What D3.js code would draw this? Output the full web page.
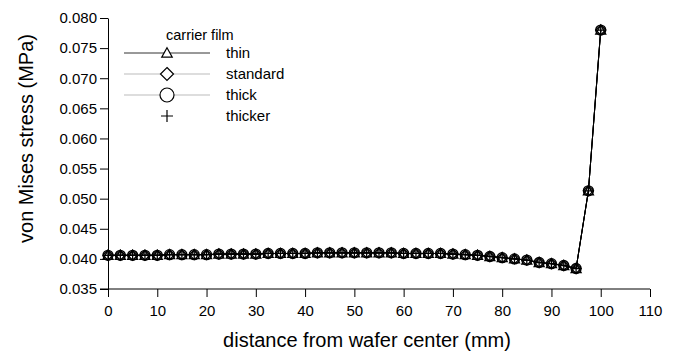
<!DOCTYPE html>
<meta charset="utf-8">
<head>
  <title>von Mises stress</title>
</head>

<style>
body {
  margin: 0;
  font-family: "Liberation Sans", Arial, sans-serif;
  background: #fff;
}
</style>

<body>
  <svg width="679" height="353"></svg>

  <script src="https://cdnjs.cloudflare.com/ajax/libs/d3/7.8.5/d3.min.js"></script>

  <script>
var distance = [0, 2.5, 5, 7.5, 10, 12.5, 15, 17.5, 20, 22.5, 25, 27.5, 30, 32.5, 35, 37.5,
  40, 42.5, 45, 47.5, 50, 52.5, 55, 57.5, 60, 62.5, 65, 67.5, 70, 72.5, 75, 77.5,
  80, 82.5, 85, 87.5, 90, 92.5, 95, 97.5, 100];

var thin = [0.0406, 0.0406, 0.0406, 0.0406, 0.0406, 0.0407, 0.0407, 0.0407, 0.0407, 0.0408,
  0.0408, 0.0408, 0.0408, 0.0409, 0.0409, 0.0409, 0.0409, 0.0410, 0.0410, 0.0410,
  0.0410, 0.0410, 0.0410, 0.0410, 0.0409, 0.0409, 0.0409, 0.0409, 0.0408, 0.0407,
  0.0406, 0.0404, 0.0402, 0.0400, 0.0398, 0.0394, 0.0392, 0.0389, 0.0384, 0.0513, 0.0780];
var standard = thin.slice();
var thick = thin.slice();
var thicker = thin.slice();

var xTicks = [0, 10, 20, 30, 40, 50, 60, 70, 80, 90, 100, 110];
var yTicks = [0.035, 0.040, 0.045, 0.050, 0.055, 0.060, 0.065, 0.070, 0.075, 0.080];

// marker shapes, scaled by k
var shapes = {
  triangle: function(k) { return 'M0,' + (-5 * k) + 'L' + (5 * k) + ',' + (4 * k) + 'H' + (-5 * k) + 'Z'; },
  diamond: function(k) { return 'M0,' + (-5 * k) + 'L' + (5 * k) + ',0L0,' + (5 * k) + 'L' + (-5 * k) + ',0Z'; },
  circle: function(k) { var r = 5 * k; return 'M' + r + ',0A' + r + ',' + r + ',0,1,1,' + (-r) + ',0A' + r + ',' + r + ',0,1,1,' + r + ',0Z'; },
  cross: function(k) { return 'M' + (-5 * k) + ',0H' + (5 * k) + 'M0,' + (-5 * k) + 'V' + (5 * k); }
};

var series = [
  {name: 'thin', values: thin, shape: 'triangle', legendLine: '#333', legendK: 1.05},
  {name: 'standard', values: standard, shape: 'diamond', legendLine: '#bbb', legendK: 1.3},
  {name: 'thick', values: thick, shape: 'circle', legendLine: '#bbb', legendK: 1.4},
  {name: 'thicker', values: thicker, shape: 'cross', legendLine: null, legendK: 1.2}
];

var margin = {left: 108, top: 18, right: 29, bottom: 64};
var svg = d3.select('svg');
var w = 679 - margin.left - margin.right;
var h = 353 - margin.top - margin.bottom;

var x = d3.scaleLinear().domain([0, 110]).range([0, w]);
var y = d3.scaleLinear().domain([0.035, 0.080]).range([h, 0]);

var g = svg.append('g').attr('transform', 'translate(' + margin.left + ',' + margin.top + ')');

var xAxis = g.append('g')
  .attr('transform', 'translate(0,' + h + ')')
  .call(d3.axisBottom(x).tickValues(xTicks).tickSize(8).tickSizeOuter(0).tickPadding(8));

var yAxis = g.append('g')
  .call(d3.axisLeft(y).tickValues(yTicks).tickFormat(d3.format('.3f')).tickSize(8).tickSizeOuter(0).tickPadding(3));

[xAxis, yAxis].forEach(function(a) {
  a.selectAll('text').attr('font-family', '"Liberation Sans", Arial, sans-serif').attr('font-size', 15).attr('fill', '#000');
  a.selectAll('line, path').attr('stroke', '#000');
});
// extend x axis line left to meet the lowest y tick
xAxis.select('.domain').attr('d', 'M-8,0H' + w);

g.append('text')
  .attr('x', w / 2 - 12)
  .attr('y', h + 58)
  .attr('text-anchor', 'middle')
  .attr('font-size', 20)
  .text('distance from wafer center (mm)');

g.append('text')
  .attr('transform', 'translate(' + (33 - margin.left) + ',' + (h / 2 - 15) + ') rotate(-90)')
  .attr('text-anchor', 'middle')
  .attr('font-size', 20)
  .text('von Mises stress (MPa)');

var line = d3.line()
  .x(function(d, i) { return x(distance[i]); })
  .y(function(d) { return y(d); });

series.slice().reverse().forEach(function(s) {
  g.append('path')
    .datum(s.values)
    .attr('d', line)
    .attr('fill', 'none')
    .attr('stroke', '#000')
    .attr('stroke-width', 1);
});

series.forEach(function(s) {
  g.append('g').selectAll('path')
    .data(s.values)
    .join('path')
    .attr('transform', function(d, i) { return 'translate(' + x(distance[i]) + ',' + y(d) + ')'; })
    .attr('d', shapes[s.shape](1))
    .attr('fill', 'none')
    .attr('stroke', '#000')
    .attr('stroke-width', 1.3);
});

// legend
var legend = svg.append('g');
legend.append('text')
  .attr('x', 166)
  .attr('y', 40)
  .attr('font-size', 14.5)
  .text('carrier film');

series.forEach(function(s, i) {
  var ly = 53 + i * 21;
  if (s.legendLine) {
    legend.append('line')
      .attr('x1', 124).attr('x2', 210)
      .attr('y1', ly).attr('y2', ly)
      .attr('stroke', s.legendLine)
      .attr('stroke-width', 1);
  }
  legend.append('path')
    .attr('transform', 'translate(167,' + ly + ')')
    .attr('d', shapes[s.shape](s.legendK))
    .attr('fill', s.shape === 'cross' ? 'none' : '#fff')
    .attr('stroke', '#000')
    .attr('stroke-width', 1.2);
  legend.append('text')
    .attr('x', 226)
    .attr('y', ly + 5)
    .attr('font-size', 15)
    .text(s.name);
});
  </script>
</body>
</html>
